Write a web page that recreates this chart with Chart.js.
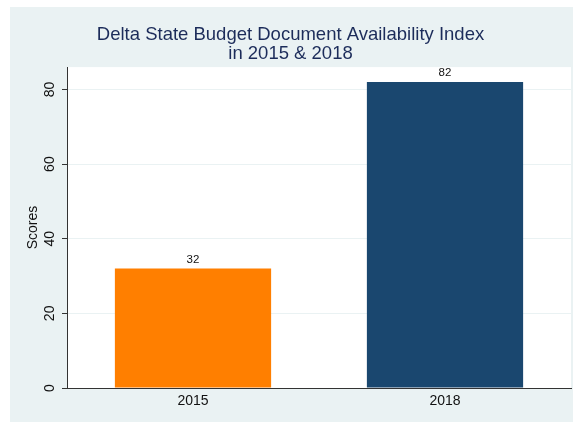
<!DOCTYPE html>
<html>
<head>
<meta charset="utf-8">
<script src="https://cdn.jsdelivr.net/npm/chart.js@4/dist/chart.umd.min.js"></script>
<style>
  html, body { margin: 0; padding: 0; background: #fff; }
  #wrap { width: 573px; height: 422px; }
</style>
</head>
<body>
<div id="wrap"><canvas id="c" width="573" height="422"></canvas></div>
<script>
const years = ["2015", "2018"];
const scores = [32, 82];
const barColors = ["#FF7F00", "#1A476F"];
const yTicks = [0, 20, 40, 60, 80];
const titleLines = ["Delta State Budget Document Availability Index", "in 2015 & 2018"];

const FONT = "'Liberation Sans', Arial, Helvetica, sans-serif";

// light outer panel + white plot region, like the stata scheme
const panelBg = {
  id: "panelBg",
  beforeDraw(chart) {
    const ctx = chart.ctx;
    const a = chart.chartArea;
    ctx.save();
    ctx.fillStyle = "#EAF2F3";
    ctx.fillRect(10, 7, chart.width - 10, chart.height - 7);
    ctx.fillStyle = "#fff";
    ctx.fillRect(a.left, a.top, a.right - a.left, a.bottom - a.top);
    ctx.restore();
  }
};

const barLabels = {
  id: "barLabels",
  afterDatasetsDraw(chart) {
    const ctx = chart.ctx;
    const meta = chart.getDatasetMeta(0);
    ctx.save();
    ctx.font = "11.5px " + FONT;
    ctx.fillStyle = "#111";
    ctx.textAlign = "center";
    ctx.textBaseline = "alphabetic";
    meta.data.forEach((bar, i) => {
      ctx.fillText(String(scores[i]), bar.x, bar.y - 6);
    });
    ctx.restore();
  }
};

new Chart(document.getElementById("c"), {
  type: "bar",
  data: {
    labels: years,
    datasets: [{
      data: scores,
      backgroundColor: barColors,
      borderWidth: 0,
      categoryPercentage: 1,
      barPercentage: 0.62
    }]
  },
  options: {
    responsive: false,
    animation: false,
    layout: { padding: { left: 10, top: 7, right: 2, bottom: 0 } },
    plugins: {
      legend: { display: false },
      tooltip: { enabled: false },
      title: {
        display: true,
        text: titleLines,
        color: "#1C2C5A",
        font: { family: FONT, size: 18.5, weight: "normal", lineHeight: 1.03 },
        padding: { top: 18, bottom: 4 }
      }
    },
    scales: {
      x: {
        grid: { display: true, drawOnChartArea: false, drawTicks: false },
        border: { display: true, color: "#333", width: 1 },
        ticks: {
          color: "#111",
          padding: 5,
          font: { family: FONT, size: 14 }
        },
        afterFit(scale) { scale.height = 34; }
      },
      y: {
        min: 0,
        max: 86,
        afterBuildTicks(scale) {
          scale.ticks = yTicks.map(v => ({ value: v }));
        },
        grid: { color: "#EAF2F3", lineWidth: 1, tickColor: "#333", tickLength: 5 },
        border: { display: true, color: "#333", width: 1 },
        ticks: {
          color: "#111",
          padding: 4,
          minRotation: 90,
          maxRotation: 90,
          crossAlign: "center",
          font: { family: FONT, size: 14 }
        },
        title: {
          display: true,
          text: "Scores",
          color: "#111",
          font: { family: FONT, size: 14 },
          padding: { top: 15, bottom: 0 }
        },
        afterFit(scale) { scale.width = 57; }
      }
    }
  },
  plugins: [panelBg, barLabels]
});
</script>
</body>
</html>
